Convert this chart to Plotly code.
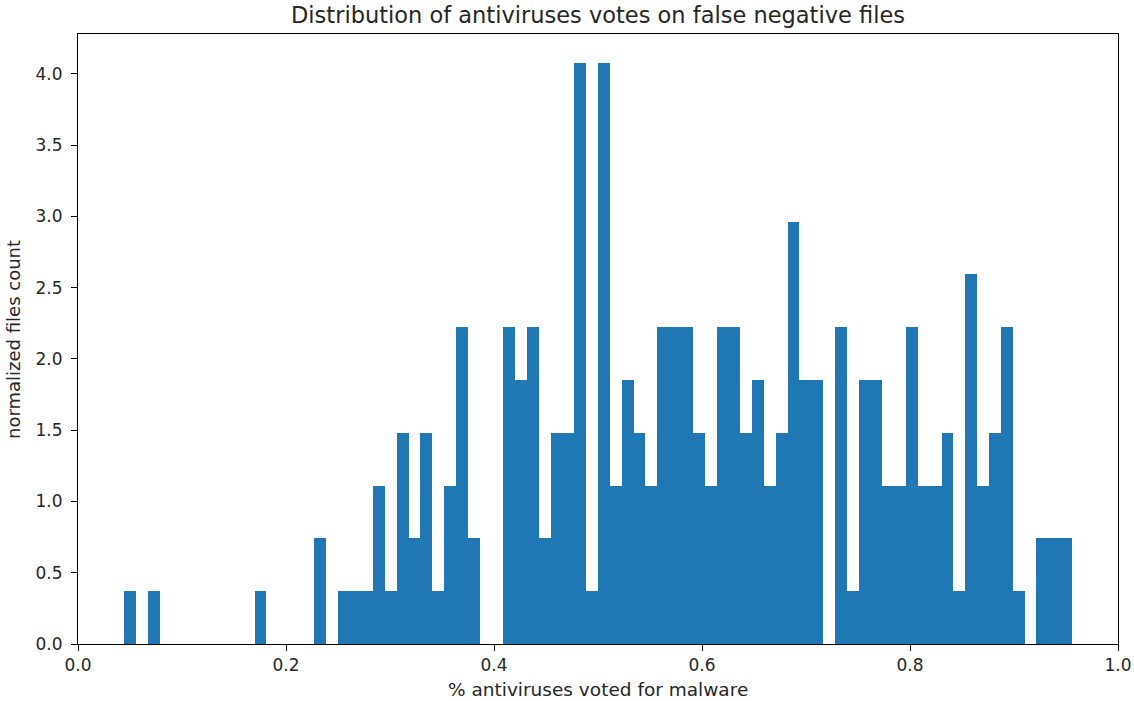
import plotly.graph_objects as go

# Histogram (80 equal bins) of % antiviruses voting malware, counts per bin
bin_start = 0.0445
bin_width = 0.01139
counts = [
    1, 0, 1, 0, 0, 0, 0, 0, 0, 0,   # bins 0-9
    0, 1, 0, 0, 0, 0, 2, 0, 1, 1,   # bins 10-19
    1, 3, 1, 4, 2, 4, 1, 3, 6, 2,   # bins 20-29
    0, 0, 6, 5, 6, 2, 4, 4, 11, 1,  # bins 30-39
    11, 3, 5, 4, 3, 6, 6, 6, 4, 3,  # bins 40-49
    6, 6, 4, 5, 3, 4, 8, 5, 5, 0,   # bins 50-59
    6, 1, 5, 5, 3, 3, 6, 3, 3, 4,   # bins 60-69
    1, 7, 3, 4, 6, 1, 0, 2, 2, 2,   # bins 70-79
]
x_ticks = [0.0, 0.2, 0.4, 0.6, 0.8, 1.0]
y_ticks = [0.0, 0.5, 1.0, 1.5, 2.0, 2.5, 3.0, 3.5, 4.0]

total = sum(counts)
centers = [bin_start + (i + 0.5) * bin_width for i in range(len(counts))]
density = [c / (total * bin_width) for c in counts]

FONT = "DejaVu Sans"
TXT = "#262626"
fig = go.Figure(
    go.Bar(
        x=centers,
        y=density,
        width=[bin_width] * len(counts),
        marker=dict(color="#1f77b4", line=dict(width=0)),
        hoverinfo="x+y",
    )
)

axis_common = dict(
    showline=True,
    linecolor="black",
    linewidth=1,
    mirror=True,
    ticks="outside",
    ticklen=6,
    tickwidth=1,
    tickcolor="black",
    showgrid=False,
    zeroline=False,
    tickfont=dict(family=FONT, size=17, color=TXT),
    tickformat=".1f",
)

fig.update_layout(
    width=1134,
    height=701,
    margin=dict(l=78, r=16, t=34, b=57, autoexpand=False),
    paper_bgcolor="white",
    plot_bgcolor="white",
    bargap=0,
    showlegend=False,
    title=dict(
        text="Distribution of antiviruses votes on false negative files",
        x=0.5,
        xref="paper",
        xanchor="center",
        y=1 - 15 / 701,
        yref="container",
        yanchor="middle",
        font=dict(family=FONT, size=22.5, color=TXT),
    ),
    xaxis=dict(range=[0, 1], tickvals=x_ticks, ticklabelstandoff=0, **axis_common),
    yaxis=dict(range=[0, 4.28], tickvals=y_ticks, ticklabelstandoff=5, **axis_common),
    annotations=[
        dict(
            text="% antiviruses voted for malware",
            xref="paper", yref="paper",
            x=0.5, y=-(689 - 644) / 610,
            xanchor="center", yanchor="middle",
            showarrow=False,
            font=dict(family=FONT, size=18.5, color=TXT),
        ),
        dict(
            text="normalized files count",
            xref="paper", yref="paper",
            x=(13 - 78) / 1040, y=(644 - 340) / 610,
            xanchor="center", yanchor="middle",
            textangle=-90,
            showarrow=False,
            font=dict(family=FONT, size=18, color=TXT),
        ),
    ],
)

fig.write_html("out.html")
